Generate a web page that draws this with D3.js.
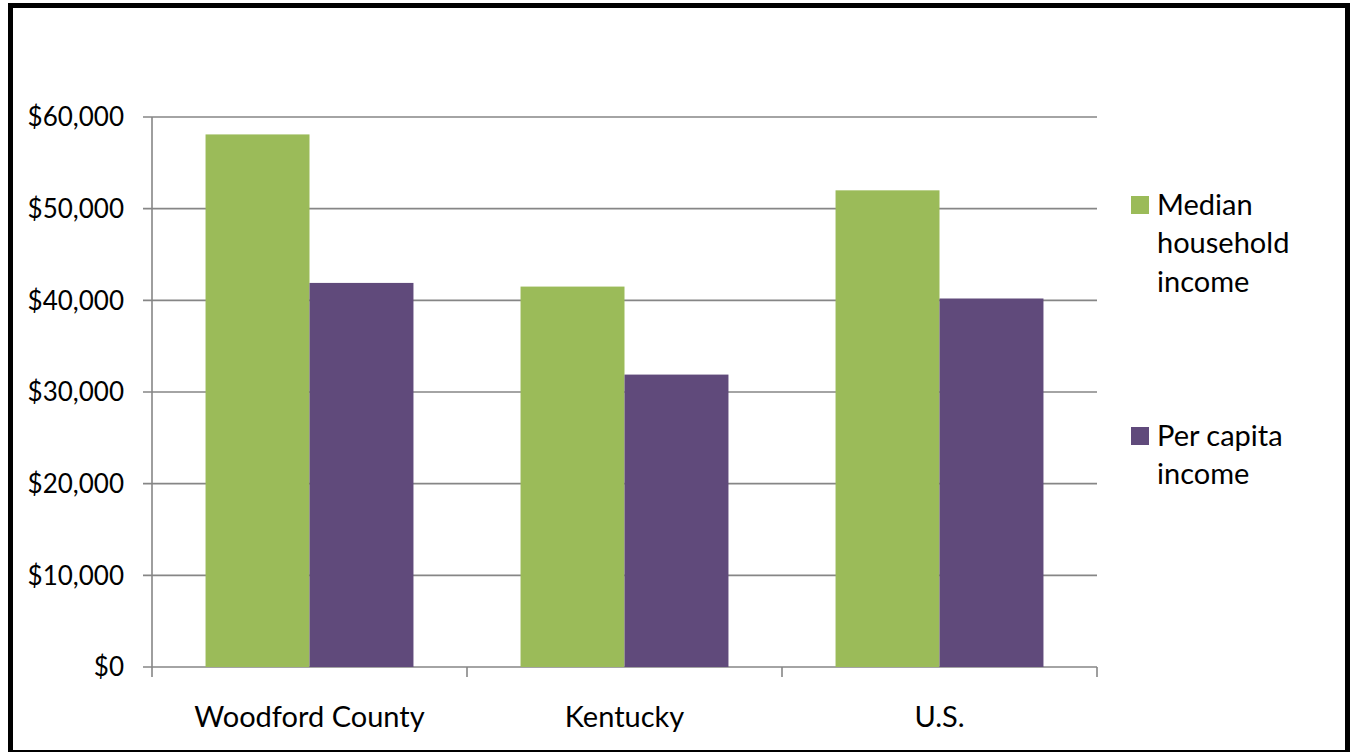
<!DOCTYPE html>
<html>
<head>
<meta charset="utf-8">
<script src="https://cdn.jsdelivr.net/npm/d3@7"></script>
<style>
  html, body { margin: 0; padding: 0; background: #fff; }
  svg { display: block; }
  text { font-family: Lato, "Open Sans", sans-serif; fill: #000; }
</style>
</head>
<body>
<svg id="chart" width="1353" height="752"></svg>
<script>
const categories = ["Woodford County", "Kentucky", "U.S."];
const seriesNames = ["Median household income", "Per capita income"];
const medianHousehold = [58100, 41500, 52000];
const perCapita = [41900, 31900, 40200];
const yTicks = [0, 10000, 20000, 30000, 40000, 50000, 60000];
const legendLines = [["Median", "household", "income"], ["Per capita", "income"]];
const colors = ["#9BBB59", "#604A7B"];

const svg = d3.select("#chart");

// outer frame
svg.append("rect").attr("x", 10.5).attr("y", 5.5).attr("width", 1337).attr("height", 747)
  .attr("fill", "none").attr("stroke", "#000").attr("stroke-width", 5);

const plot = { left: 152, right: 1097, top: 117, bottom: 667 };

const x = d3.scaleBand().domain(categories).range([plot.left, plot.right]).paddingInner(0).paddingOuter(0);
const x1 = d3.scaleBand().domain(seriesNames).range([0, x.bandwidth()]).paddingInner(0).paddingOuter(0.515);
const y = d3.scaleLinear().domain([0, 60000]).range([plot.bottom, plot.top]);

const g = svg.append("g");

// gridlines
g.selectAll("line.grid").data(yTicks).join("line")
  .attr("x1", plot.left - 9).attr("x2", plot.right)
  .attr("y1", d => y(d)).attr("y2", d => y(d))
  .attr("stroke", "#868686").attr("stroke-width", 1.6);

// y axis line
g.append("line").attr("x1", plot.left).attr("x2", plot.left)
  .attr("y1", plot.top).attr("y2", plot.bottom + 10)
  .attr("stroke", "#868686").attr("stroke-width", 1.6);

// category ticks
const catEdges = categories.map(c => x(c)).concat([plot.right]);
g.selectAll("line.ctick").data(catEdges.slice(1)).join("line")
  .attr("x1", d => d).attr("x2", d => d)
  .attr("y1", plot.bottom).attr("y2", plot.bottom + 10)
  .attr("stroke", "#868686").attr("stroke-width", 1.6);

// y labels
const fmt = d => "$" + d3.format(",")(d);
g.selectAll("text.ylab").data(yTicks).join("text")
  .attr("x", 124).attr("y", d => y(d) + 9.3)
  .attr("text-anchor", "end").style("font-size", "26px")
  .text(fmt);

// bars
const data = categories.map((c, i) => ({ cat: c, vals: [medianHousehold[i], perCapita[i]] }));
const groups = g.selectAll("g.cat").data(data).join("g")
  .attr("transform", d => `translate(${x(d.cat)},0)`);
groups.selectAll("rect").data(d => d.vals.map((v, j) => ({ v, s: seriesNames[j], j })))
  .join("rect")
  .attr("x", d => x1(d.s)).attr("width", x1.bandwidth())
  .attr("y", d => y(d.v)).attr("height", d => y(0) - y(d.v))
  .attr("fill", d => colors[d.j]);

// x labels
g.selectAll("text.xlab").data(categories).join("text")
  .attr("x", d => x(d) + x.bandwidth() / 2).attr("y", 727)
  .attr("text-anchor", "middle").style("font-size", "29px")
  .text(d => d);

// legend
const legendTops = [196, 427];
legendLines.forEach((lines, i) => {
  const lg = svg.append("g");
  lg.append("rect").attr("x", 1131).attr("y", legendTops[i]).attr("width", 18).attr("height", 18)
    .attr("fill", colors[i]);
  lines.forEach((t, k) => {
    lg.append("text").attr("x", 1157).attr("y", legendTops[i] + 19 + k * 38.3)
      .style("font-size", "29px").text(t);
  });
});
</script>
</body>
</html>
